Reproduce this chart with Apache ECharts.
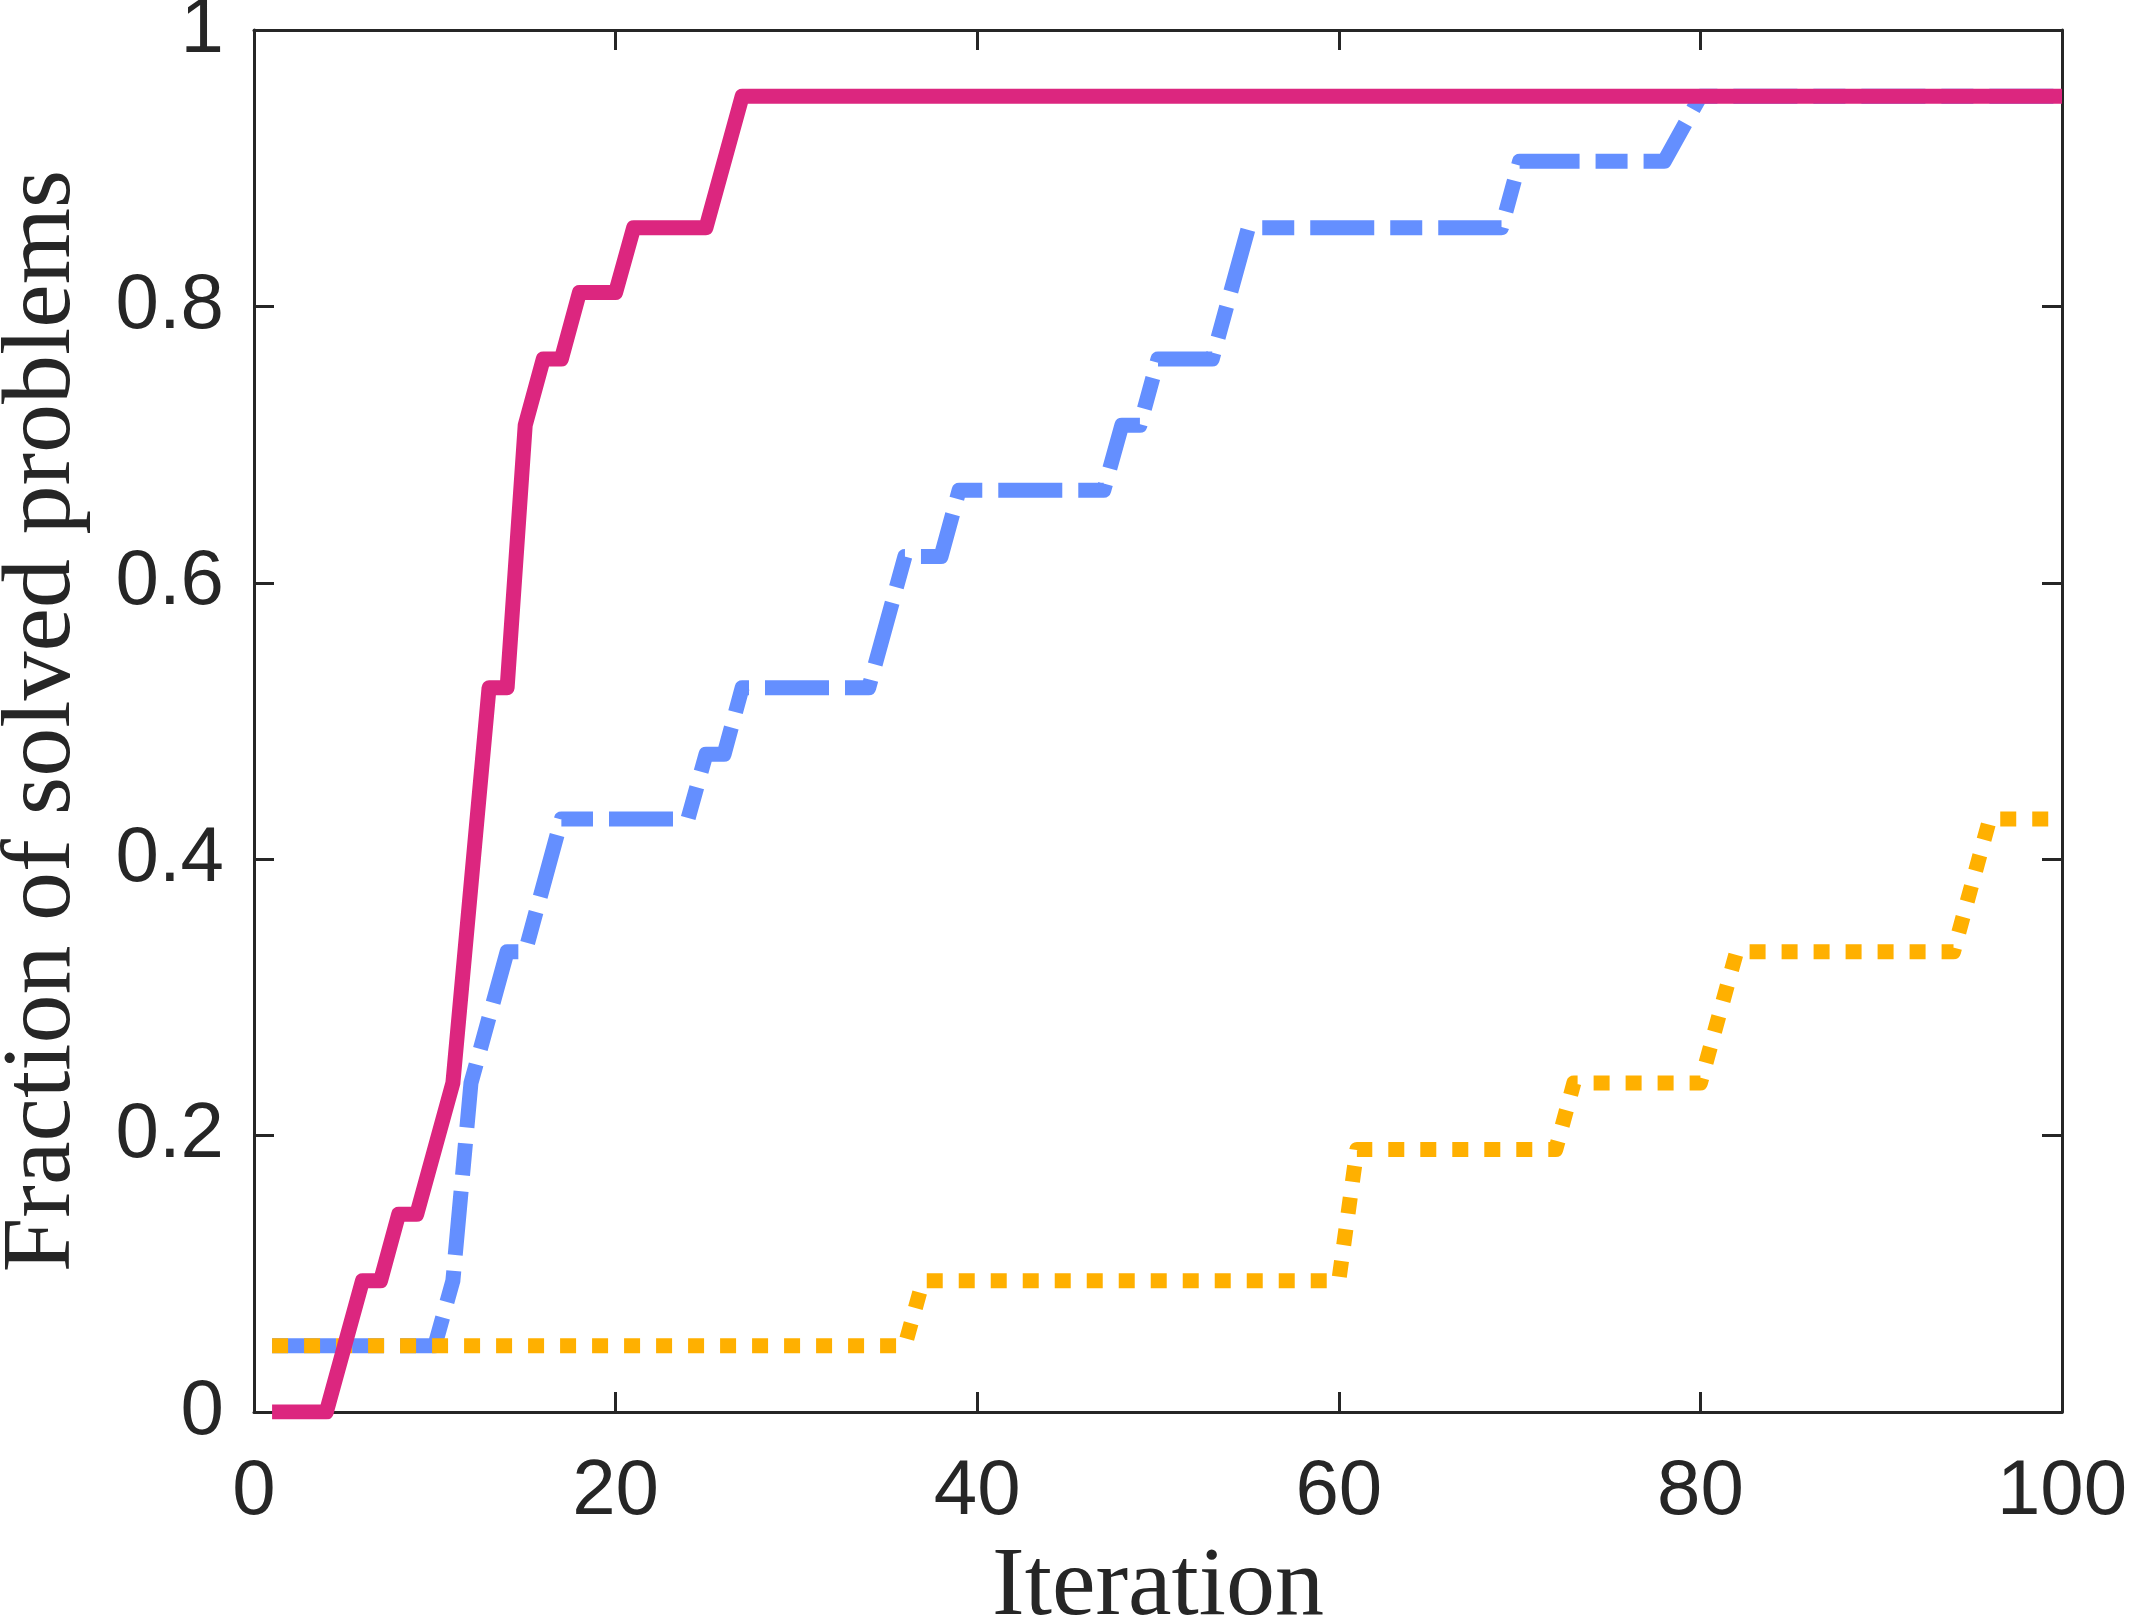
<!DOCTYPE html>
<html>
<head>
<meta charset="utf-8">
<script src="https://cdn.jsdelivr.net/npm/echarts@6/dist/echarts.min.js"></script>
<style>
  html, body { margin: 0; padding: 0; background: #fff; }
  #view { width: 2131px; height: 1620px; }
</style>
</head>
<body>
<div id="view"></div>
<script>
var myCharts = echarts.init(document.getElementById("view"));

/* 横轴刻度 */
var xTicks = [0, 20, 40, 60, 80, 100];
var yTicks = [0, 0.2, 0.4, 0.6, 0.8, 1];

/* 实线 (粉色) */
var solidIter = [1, 4, 6, 7, 8, 9, 11, 13, 14, 15, 16, 17, 18, 20, 21, 25, 27, 100];
var solidFrac = [0, 0, 0.095, 0.095, 0.143, 0.143, 0.238, 0.524, 0.524, 0.714, 0.762, 0.762, 0.810, 0.810, 0.857, 0.857, 0.952, 0.952];

/* 点划线 (蓝色) */
var dashIter = [1, 10, 11, 12, 14, 15, 17, 24, 25, 26, 27, 34, 36, 38, 39, 47, 48, 49, 50, 53, 55, 69, 70, 78, 80, 100];
var dashFrac = [0.048, 0.048, 0.095, 0.238, 0.333, 0.333, 0.429, 0.429, 0.476, 0.476, 0.524, 0.524, 0.619, 0.619, 0.667, 0.667, 0.714, 0.714, 0.762, 0.762, 0.857, 0.857, 0.905, 0.905, 0.952, 0.952];

/* 点线 (橙色) */
var dotIter = [1, 36, 37, 60, 61, 72, 73, 80, 82, 94, 96, 100];
var dotFrac = [0.048, 0.048, 0.095, 0.095, 0.190, 0.190, 0.238, 0.238, 0.333, 0.333, 0.429, 0.429];

function pairs(xs, ys) {
    return xs.map(function (x, i) { return [x, ys[i]]; });
}

var ink = '#262626';

function frameAxis(pos, ticks, showLabel, extra) {
    var ax = {
        type: 'value',
        position: pos,
        min: ticks[0],
        max: ticks[ticks.length - 1],
        interval: ticks[1] - ticks[0],
        axisLine: { show: true, onZero: false, lineStyle: { color: ink, width: 3 } },
        axisTick: { show: true, inside: true, length: 20, lineStyle: { color: ink, width: 3 } },
        splitLine: { show: false },
        axisLabel: {
            show: showLabel,
            fontSize: 78,
            fontFamily: 'Liberation Sans',
            color: ink,
            margin: pos === 'bottom' ? 41 : 30
        }
    };
    return Object.assign(ax, extra || {});
}

var nameStyle = { fontFamily: 'Liberation Serif', fontSize: 98, color: ink };

option = {
    animation: false,
    backgroundColor: '#fff',
    grid: { left: 254, right: 69, top: 30, bottom: 208, outerBoundsMode: 'none', containLabel: false },
    xAxis: [
        frameAxis('bottom', xTicks, true, {
            name: 'Iteration', nameLocation: 'middle', nameGap: 127, nameTextStyle: nameStyle
        }),
        frameAxis('top', xTicks, false)
    ],
    yAxis: [
        frameAxis('left', yTicks, true, {
            name: 'Fraction of solved problems', nameLocation: 'middle', nameGap: 162, nameTextStyle: nameStyle
        }),
        frameAxis('right', yTicks, false)
    ],
    series: [
        {
            name: 'dash-dot',
            type: 'line',
            data: pairs(dashIter, dashFrac),
            showSymbol: false,
            z: 2,
            lineStyle: { color: '#648FFF', width: 15, type: [64, 16, 32, 16], cap: 'butt', join: 'round' }
        },
        {
            name: 'dotted',
            type: 'line',
            data: pairs(dotIter, dotFrac),
            showSymbol: false,
            z: 3,
            lineStyle: { color: '#FFB000', width: 15, type: [16, 16], cap: 'butt', join: 'round' }
        },
        {
            name: 'solid',
            type: 'line',
            data: pairs(solidIter, solidFrac),
            showSymbol: false,
            z: 4,
            lineStyle: { color: '#DC267F', width: 15, cap: 'butt', join: 'round' }
        }
    ]
};

myCharts.setOption(option);
</script>
</body>
</html>
